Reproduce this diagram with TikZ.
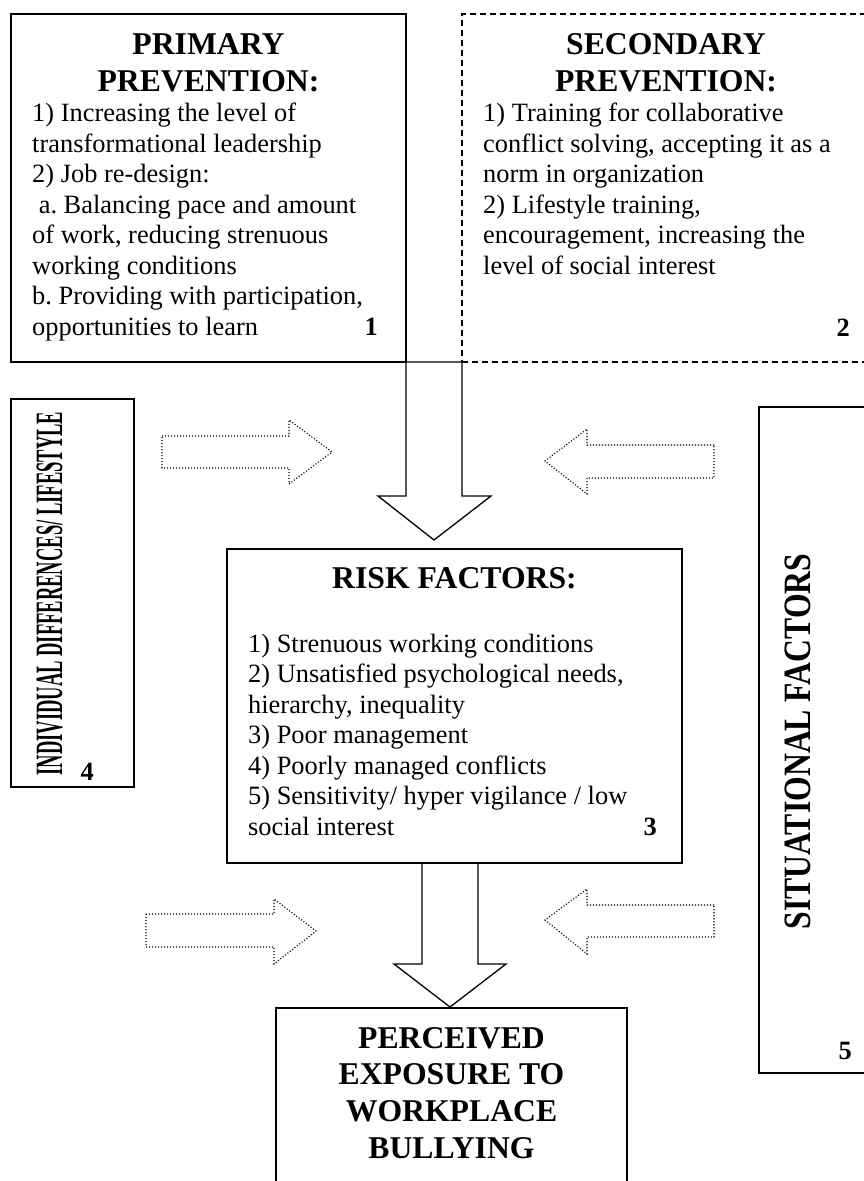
\documentclass[tikz,border=0pt]{standalone}
\usepackage{fontspec}
\setmainfont{Liberation Serif}
\usepackage{graphicx}
\frenchspacing

\tikzset{
  box/.style={draw, line width=1.3pt, inner sep=0pt, outer sep=0pt, anchor=north west},
  dashbox/.style={box, dash pattern=on 6pt off 4pt},
  blockarrow/.style={draw, line width=1.3pt, line join=miter},
  dotarrow/.style={draw, line width=1.1pt, dash pattern=on 1.1pt off 1.9pt},
  headtxt/.style={inner sep=0pt, anchor=base, font=\fontsize{31.7}{37}\selectfont\bfseries},
  bodytxt/.style={inner sep=0pt, anchor=base west, font=\fontsize{26.4}{30.5}\selectfont},
  numtxt/.style={inner sep=0pt, anchor=base east, font=\fontsize{26.4}{30.5}\selectfont\bfseries},
  sidetxt/.style={inner sep=0pt, anchor=base, rotate=90, font=\fontsize{31.7}{37}\selectfont\bfseries},
}

\begin{document}
\begin{tikzpicture}[x=1pt, y=-1pt]
  \path[use as bounding box, clip] (0,0) rectangle (864,1181);

  % frames
  \node[box, minimum width=395pt, minimum height=348pt] (prim) at (11,14) {};
  \node[dashbox, minimum width=408pt, minimum height=348pt] (sec) at (462,14) {};
  \node[box, minimum width=455pt, minimum height=314pt] (risk) at (227,549) {};
  \node[box, minimum width=123pt, minimum height=388pt] (indiv) at (11,399) {};
  \node[box, minimum width=121pt, minimum height=666pt] (situ) at (759,407) {};
  \node[box, minimum width=351pt, minimum height=190pt] (expo) at (276,1008) {};

  % primary prevention
  \node[headtxt] (primhead) at (208.5,54.3) {\parbox[t]{380pt}{\centering PRIMARY\\PREVENTION:}};
  \node[bodytxt] (primbody) at (32,121.7) {\parbox[t]{370pt}{\raggedright
    1) Increasing the level of\\
    transformational leadership\\
    2) Job re-design:\\
    \hspace*{0.25em}a. Balancing pace and amount\\
    of work, reducing strenuous\\
    working conditions\\
    b. Providing with participation,\\
    opportunities to learn}};
  \node[numtxt] (n1) at (378,335.2) {1};

  % secondary prevention
  \node[headtxt] (sechead) at (666,54.3) {\parbox[t]{390pt}{\centering SECONDARY\\PREVENTION:}};
  \node[bodytxt] (secbody) at (483,121.7) {\parbox[t]{380pt}{\raggedright
    1) Training for collaborative\\
    conflict solving, accepting it as a\\
    norm in organization\\
    2) Lifestyle training,\\
    encouragement, increasing the\\
    level of social interest}};
  \node[numtxt] (n2) at (850,336.7) {2};

  % risk factors
  \node[headtxt] (riskhead) at (454.5,588) {RISK FACTORS:};
  \node[bodytxt] (riskbody) at (248,652) {\parbox[t]{430pt}{\raggedright
    1) Strenuous working conditions\\
    2) Unsatisfied psychological needs,\\
    hierarchy, inequality\\
    3) Poor management\\
    4) Poorly managed conflicts\\
    5) Sensitivity/ hyper vigilance / low\\
    social interest}};
  \node[numtxt] (n3) at (657,835) {3};

  % outcome
  \node[headtxt] (expohead) at (451.5,1048) {\parbox[t]{340pt}{\centering\baselineskip=36.7pt
    PERCEIVED\\EXPOSURE TO\\WORKPLACE\\BULLYING}};

  % side factors
  \node[sidetxt] (indivtxt) at (62,593.5) {\scalebox{0.585}[1.22]{INDIVIDUAL DIFFERENCES/ LIFESTYLE}};
  \node[numtxt] (n4) at (94,780) {4};
  \node[sidetxt] (situtxt) at (810,741.5) {\scalebox{1}[1.22]{SITUATIONAL FACTORS}};
  \node[numtxt] (n5) at (852,1059) {5};

  % block arrows between the stages
  \draw[blockarrow] (prim.south east) -- (406,496) -- (378,496) -- (434,540)
    -- (491,496) -- (462,496) -- (sec.south west) -- cycle;
  \draw[blockarrow] (422,863) -- (422,964) -- (394,964) -- (450,1007)
    -- (506,964) -- (478,964) -- (478,863);

  % dotted influence arrows
  \draw[dotarrow] (162,436) -- (289,436) -- (289,420) -- (332,452) -- (289,484) -- (289,468) -- (162,468) -- cycle;
  \draw[dotarrow] (714,445) -- (587,445) -- (587,429) -- (545,461) -- (587,494) -- (587,478) -- (714,478) -- cycle;
  \draw[dotarrow] (146,914) -- (274,914) -- (274,899) -- (316,931) -- (274,964) -- (274,947) -- (146,947) -- cycle;
  \draw[dotarrow] (714,905) -- (587,905) -- (587,889) -- (545,920) -- (587,954) -- (587,937) -- (714,937) -- cycle;
\end{tikzpicture}
\end{document}
